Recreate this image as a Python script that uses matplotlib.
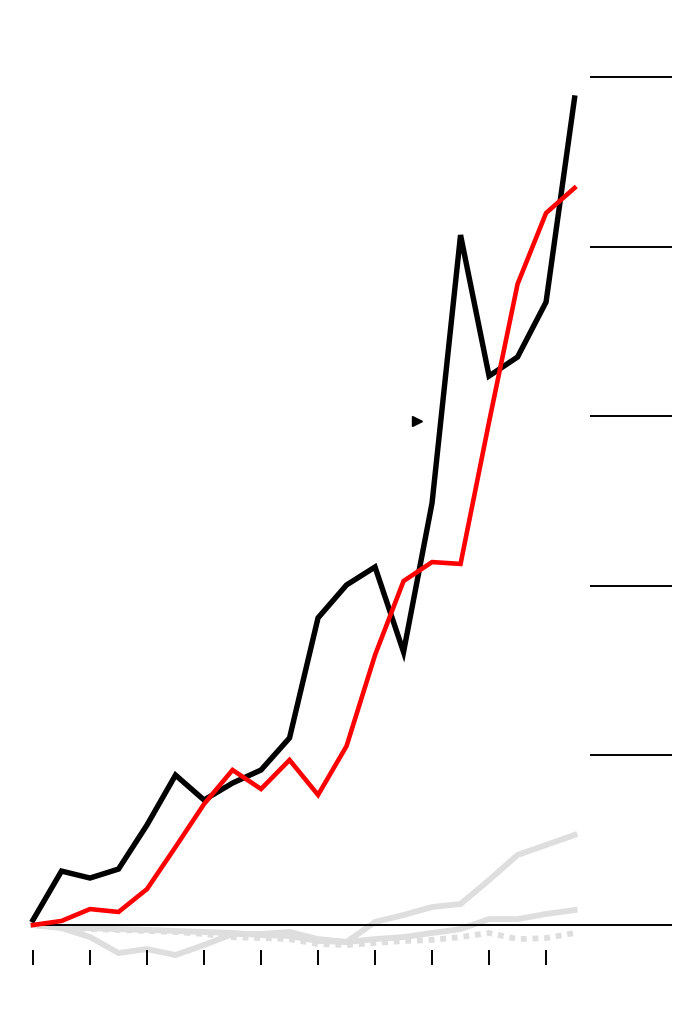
import numpy as np
import matplotlib
matplotlib.use("Agg")
import matplotlib.pyplot as plt

# series values (one per period, 20 periods)
periods = np.arange(20)
black_vals = [0.03, 0.318, 0.277, 0.330, 0.590, 0.884, 0.737, 0.837, 0.914, 1.103,
              1.811, 2.005, 2.111, 1.610, 2.488, 4.068, 3.237, 3.349, 3.673, 4.876]
red_vals = [0.0, 0.024, 0.094, 0.077, 0.212, 0.460, 0.713, 0.914, 0.802, 0.973,
            0.767, 1.055, 1.592, 2.028, 2.140, 2.129, 2.966, 3.779, 4.198, 4.346]
gray_a = [0.0, -0.018, -0.071, -0.165, -0.142, -0.177, -0.118, -0.053, -0.053, -0.041,
          -0.083, -0.100, 0.018, 0.059, 0.106, 0.124, 0.265, 0.413, 0.472, 0.531]
gray_b = [0.0, -0.012, -0.018, -0.024, -0.029, -0.035, -0.041, -0.047, -0.059, -0.065,
          -0.094, -0.100, -0.083, -0.071, -0.047, -0.024, 0.035, 0.035, 0.065, 0.088]
gray_dot = [0.0, -0.012, -0.024, -0.029, -0.035, -0.041, -0.053, -0.071, -0.077, -0.083,
            -0.112, -0.118, -0.106, -0.094, -0.088, -0.071, -0.047, -0.083, -0.077, -0.047]
grid_levels = [1, 2, 3, 4, 5]
tick_periods = periods[::2]
marker_point = (13.47, 2.972)


def main():
    fig = plt.figure(figsize=(6.9, 10.3), dpi=100)
    ax = fig.add_axes([0, 0, 1, 1])
    ax.set_xlim(-1.158, 23.05)
    ax.set_ylim(-0.619, 5.454)
    ax.axis('off')

    gray = '#dedede'
    ax.plot(periods, gray_a, color=gray, lw=4.2, solid_joinstyle='miter', zorder=1)
    ax.plot(periods, gray_b, color=gray, lw=4.2, solid_joinstyle='miter', zorder=1)
    ax.plot(periods, gray_dot, color=gray, lw=4.2, linestyle=(0, (1, 1)),
            dash_capstyle='butt', zorder=1)

    # baseline and short right-side gridlines
    ax.hlines(0, 0, 22.42, color='black', lw=1.4, zorder=2)
    ax.hlines(grid_levels, 19.54, 22.42, color='black', lw=1.4, zorder=2)

    # bottom ticks
    ax.vlines(tick_periods, -0.236, -0.147, color='black', lw=1.4)

    ax.plot(periods, black_vals, color='black', lw=3.9, solid_joinstyle='miter', zorder=3)
    ax.plot(periods, red_vals, color='#ff0000', lw=3.3, solid_joinstyle='miter', zorder=4)

    ax.plot([marker_point[0]], [marker_point[1]], marker='>', color='black',
            ms=7, ls='none', zorder=5)

    fig.savefig("out.png", dpi=100)


if __name__ == "__main__":
    main()
